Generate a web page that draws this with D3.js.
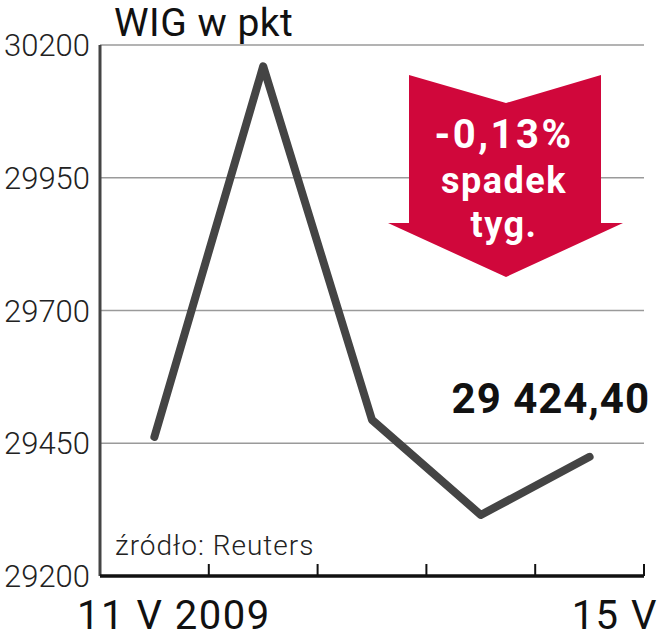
<!DOCTYPE html>
<html>
<head>
<meta charset="utf-8">
<script src="https://cdn.jsdelivr.net/npm/d3@7"></script>
<style>
  body { margin: 0; background: #fff; }
  svg { display: block; font-family: Roboto, "Noto Sans", sans-serif; }
</style>
</head>
<body>
<div id="container"></div>
<script>
/* DATA */
const days = ["11 V", "12 V", "13 V", "14 V", "15 V"]
const wig = [29462, 30160, 29494, 29315, 29424.4]
const yTicks = [29200, 29450, 29700, 29950, 30200]
const xLabels = ["11 V 2009", "15 V"]
const lastLabel = "29 424,40"
const badge = ["-0,13%", "spadek", "tyg."]

/* CONSTANTS */
const width = 661,
      height = 640,
      margin = {top: 45, bottom: 64, left: 100, right: 17}

const svg = d3.select("#container")
              .append("svg")
              .attr("width", width)
              .attr("height", height)

/* SCALES */
const xScale = d3.scaleBand()
                 .domain(days)
                 .range([margin.left, width - margin.right])
                 .padding(0)

const yScale = d3.scaleLinear()
                 .domain([29200, 30200])
                 .range([height - margin.bottom, margin.top])

// gridlines
svg.append("g")
   .selectAll("line")
   .data(yTicks.slice(1))
   .join("line")
   .attr("x1", margin.left)
   .attr("x2", width - margin.right)
   .attr("y1", d => yScale(d))
   .attr("y2", d => yScale(d))
   .attr("stroke", "#9a9a9a")
   .attr("stroke-width", 1.5)

// y labels
svg.append("g")
   .selectAll("text")
   .data(yTicks)
   .join("text")
   .attr("x", 90)
   .attr("y", d => yScale(d))
   .attr("dy", "0.36em")
   .attr("text-anchor", "end")
   .attr("font-size", 31)
   .attr("font-weight", 300)
   .attr("fill", "#222")
   .text(d => d)

// left axis line
svg.append("line")
   .attr("x1", margin.left).attr("x2", margin.left)
   .attr("y1", yScale(30200)).attr("y2", yScale(29200))
   .attr("stroke", "#444")
   .attr("stroke-width", 3)

// bottom axis with upward ticks at band edges
const edges = days.map(d => xScale(d) + xScale.bandwidth())
svg.append("line")
   .attr("x1", margin.left).attr("x2", width - margin.right)
   .attr("y1", yScale(29200)).attr("y2", yScale(29200))
   .attr("stroke", "#111")
   .attr("stroke-width", 3.5)

svg.append("g")
   .selectAll("line")
   .data(edges)
   .join("line")
   .attr("x1", d => d).attr("x2", d => d)
   .attr("y1", yScale(29200)).attr("y2", yScale(29200) - 12)
   .attr("stroke", "#111")
   .attr("stroke-width", 2)

// line
const line = d3.line()
               .x((d, i) => xScale(days[i]) + xScale.bandwidth() / 2)
               .y(d => yScale(d))

svg.append("path")
   .datum(wig)
   .attr("d", line)
   .attr("fill", "none")
   .attr("stroke", "#444")
   .attr("stroke-width", 8)
   .attr("stroke-linecap", "round")
   .attr("stroke-linejoin", "round")

// title
svg.append("text")
   .attr("x", 114).attr("y", 36)
   .attr("font-size", 39)
   .attr("letter-spacing", 0.5)
   .attr("fill", "#111")
   .text("WIG w pkt")

// source
svg.append("text")
   .attr("x", 115).attr("y", 555)
   .attr("font-size", 28)
   .attr("font-weight", 300)
   .attr("letter-spacing", 1)
   .attr("fill", "#222")
   .text("źródło: Reuters")

// x labels
svg.append("text")
   .attr("x", 77).attr("y", 629)
   .attr("font-size", 40)
   .attr("letter-spacing", 1.5)
   .attr("fill", "#111")
   .text(xLabels[0])

svg.append("text")
   .attr("x", 658).attr("y", 629)
   .attr("text-anchor", "end")
   .attr("font-size", 40)
   .attr("letter-spacing", 1.5)
   .attr("fill", "#111")
   .text(xLabels[1])

// last value
svg.append("text")
   .attr("x", 650).attr("y", 413)
   .attr("text-anchor", "end")
   .attr("font-size", 42)
   .attr("font-weight", 700)
   .attr("letter-spacing", 1)
   .attr("fill", "#111")
   .text(lastLabel)

// red arrow
const arrow = [[409, 75], [506, 103], [601, 75], [601, 223], [623, 223],
               [506, 277], [388, 223], [409, 223]]
svg.append("path")
   .attr("d", "M" + arrow.join("L") + "Z")
   .attr("fill", "#d0073b")

svg.append("g")
   .selectAll("text")
   .data(badge)
   .join("text")
   .attr("x", 504)
   .attr("y", (d, i) => [148, 193, 237][i])
   .attr("text-anchor", "middle")
   .attr("font-size", (d, i) => i == 0 ? 40 : 36)
   .attr("letter-spacing", (d, i) => i == 0 ? 2.5 : 1.5)
   .attr("font-weight", 700)
   .attr("fill", "#fff")
   .text(d => d)
</script>
</body>
</html>
